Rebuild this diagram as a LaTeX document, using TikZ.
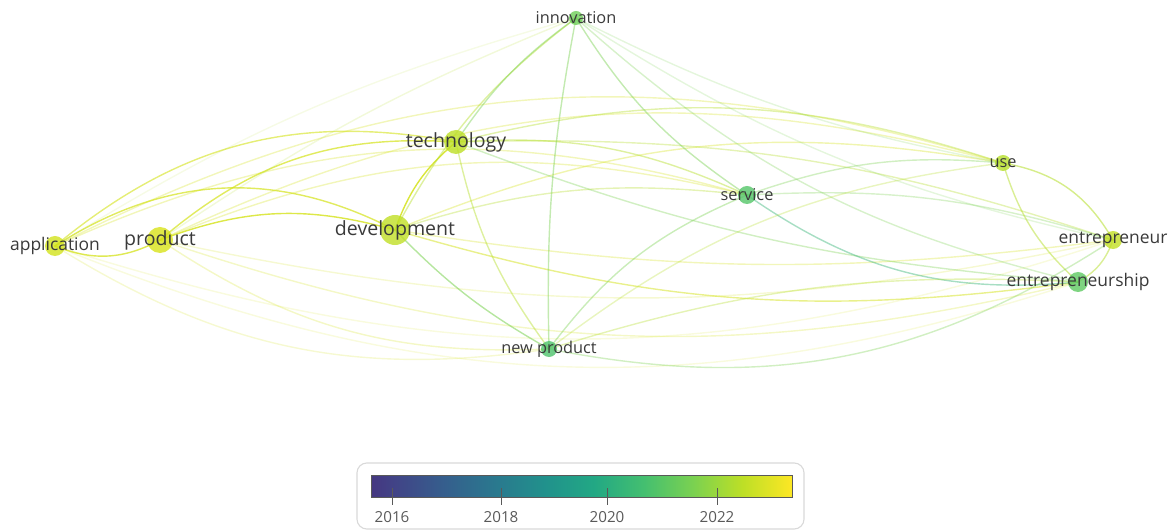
\documentclass[tikz,border=0pt]{standalone}
\usepackage{fontspec}
\setmainfont{Open Sans}
\usetikzlibrary{backgrounds}

\definecolor{txt}{HTML}{3A3A3A}
\definecolor{cApp}{HTML}{D2E21B}
\definecolor{cProd}{HTML}{D8E219}
\definecolor{cDev}{HTML}{C0DF25}
\definecolor{cTech}{HTML}{BDDF26}
\definecolor{cInno}{HTML}{6ECE58}
\definecolor{cServ}{HTML}{54C568}
\definecolor{cUse}{HTML}{B5DE2B}
\definecolor{cEntr}{HTML}{C2DF23}
\definecolor{cEntrs}{HTML}{5EC962}
\definecolor{cNewp}{HTML}{4EC36B}
\definecolor{cY}{HTML}{D4E21A}
\definecolor{cL}{HTML}{B5DE2B}
\definecolor{cG}{HTML}{7AD151}
\definecolor{cB}{HTML}{3BB57A}
\definecolor{vA}{HTML}{453781}
\definecolor{vB}{HTML}{414487}
\definecolor{vC}{HTML}{355F8D}
\definecolor{vD}{HTML}{2A788E}
\definecolor{vE}{HTML}{21918C}
\definecolor{vF}{HTML}{22A884}
\definecolor{vG}{HTML}{44BF70}
\definecolor{vH}{HTML}{7AD151}
\definecolor{vI}{HTML}{BDDF26}
\definecolor{vJ}{HTML}{FDE725}
\pgfdeclarehorizontalshading{viridis}{100bp}{color(0bp)=(vA); color(25bp)=(vA);
  color(27.9bp)=(vB); color(33.8bp)=(vC); color(39.7bp)=(vD); color(45.6bp)=(vE);
  color(51.5bp)=(vF); color(57.4bp)=(vG); color(63.2bp)=(vH); color(69.1bp)=(vI);
  color(75bp)=(vJ); color(100bp)=(vJ)}

\begin{document}
\begin{tikzpicture}[x=0.025cm,y=0.025cm,
    kw/.style={circle,inner sep=0pt,draw=none,fill opacity=.8},
    lbl/.style={text=txt,inner sep=0pt},
    lblbig/.style={lbl,font=\fontsize{13.9}{16}\selectfont},
    lblmid/.style={lbl,font=\fontsize{12.4}{14}\selectfont},
    lblsmall/.style={lbl,font=\fontsize{11.6}{14}\selectfont},
    link/.style={line width=1pt,line cap=round},
    tickmark/.style={draw=gray!70!black,line width=.6pt},
    yrlbl/.style={text=black!65,inner sep=0pt,font=\fontsize{10.8}{12}\selectfont}]
  \useasboundingbox (0,0) rectangle (1173,-531);
  % keywords
  \node[kw,fill=cApp,minimum size=0.5cm] (app) at (55,-246) {};
  \node[kw,fill=cProd,minimum size=0.65cm] (prod) at (160,-240) {};
  \node[kw,fill=cDev,minimum size=0.75cm] (dev) at (395,-230) {};
  \node[kw,fill=cTech,minimum size=0.6cm] (tech) at (456,-142) {};
  \node[kw,fill=cInno,minimum size=0.35cm] (inno) at (576,-18) {};
  \node[kw,fill=cServ,minimum size=0.45cm] (serv) at (747,-195) {};
  \node[kw,fill=cUse,minimum size=0.4cm] (use) at (1003,-163) {};
  \node[kw,fill=cEntr,minimum size=0.45cm] (entr) at (1113,-240) {};
  \node[kw,fill=cEntrs,minimum size=0.5cm] (entrs) at (1078,-282) {};
  \node[kw,fill=cNewp,minimum size=0.4cm] (newp) at (549,-349) {};
  \node[lblmid] (app-t) at (app) {application};
  \node[lblbig] (prod-t) at (prod) {product};
  \node[lblbig] (dev-t) at (dev) {development};
  \node[lblbig] (tech-t) at (tech) {technology};
  \node[lblsmall] (inno-t) at (inno) {innovation};
  \node[lblsmall] (serv-t) at (serv) {service};
  \node[lblsmall] (use-t) at (use) {use};
  \node[lblmid] (entr-t) at (entr) {entrepreneur};
  \node[lblmid] (entrs-t) at (entrs) {entrepreneurship};
  \node[lblsmall] (newp-t) at (newp) {new product};
  % links
  \begin{pgfonlayer}{background}
    \draw[link,cY,opacity=.75] (app.center) to[bend right=25] (prod.center);
    \draw[link,cY,opacity=.7] (app.center) to[bend left=30] (dev.center);
    \draw[link,cY,opacity=.6] (app.center) to[bend left=25] (tech.center);
    \draw[link,cL,opacity=.12] (app.center) to[bend left=8] (inno.center);
    \draw[link,cY,opacity=.3] (app.center) to[bend left=20] (serv.center);
    \draw[link,cY,opacity=.3] (app.center) to[bend left=22] (use.center);
    \draw[link,cY,opacity=.15] (app.center) to[bend right=18] (entr.center);
    \draw[link,cY,opacity=.15] (app.center) to[bend right=20] (entrs.center);
    \draw[link,cY,opacity=.2] (app.center) to[bend right=20] (newp.center);
    \draw[link,cY,opacity=.8] (prod.center) to[bend left=18] (dev.center);
    \draw[link,cY,opacity=.7] (prod.center) to[bend left=22] (tech.center);
    \draw[link,cL,opacity=.18] (prod.center) to[bend left=6] (inno.center);
    \draw[link,cY,opacity=.3] (prod.center) to[bend left=18] (serv.center);
    \draw[link,cY,opacity=.3] (prod.center) to[bend left=20] (use.center);
    \draw[link,cY,opacity=.2] (prod.center) to[bend right=12] (entr.center);
    \draw[link,cY,opacity=.25] (prod.center) to[bend right=16] (entrs.center);
    \draw[link,cY,opacity=.25] (prod.center) to[bend right=18] (newp.center);
    \draw[link,cY,opacity=.85] (dev.center) to[bend left=15] (tech.center);
    \draw[link,cL,opacity=.45] (dev.center) to[bend left=12] (inno.center);
    \draw[link,cL,opacity=.35] (dev.center) to[bend left=12] (serv.center);
    \draw[link,cY,opacity=.35] (dev.center) to[bend left=16] (use.center);
    \draw[link,cY,opacity=.3] (dev.center) to[bend right=8] (entr.center);
    \draw[link,cY,opacity=.5] (dev.center) to[bend right=12] (entrs.center);
    \draw[link,cG,opacity=.55] (dev.center) to[bend right=8] (newp.center);
    \draw[link,cG,opacity=.45] (tech.center) to[bend left=10] (inno.center);
    \draw[link,cL,opacity=.45] (tech.center) to[bend left=14] (serv.center);
    \draw[link,cL,opacity=.4] (tech.center) to[bend left=16] (use.center);
    \draw[link,cL,opacity=.35] (tech.center) to[bend left=10] (entr.center);
    \draw[link,cG,opacity=.35] (tech.center) to[bend right=8] (entrs.center);
    \draw[link,cL,opacity=.45] (tech.center) to[bend right=12] (newp.center);
    \draw[link,cG,opacity=.45] (inno.center) to[bend right=12] (serv.center);
    \draw[link,cG,opacity=.2] (inno.center) to[bend right=8] (use.center);
    \draw[link,cG,opacity=.2] (inno.center) to[bend right=10] (entr.center);
    \draw[link,cG,opacity=.3] (inno.center) to[bend right=14] (entrs.center);
    \draw[link,cG,opacity=.45] (inno.center) to[bend right=6] (newp.center);
    \draw[link,cG,opacity=.35] (serv.center) to[bend left=12] (use.center);
    \draw[link,cG,opacity=.3] (serv.center) to[bend left=10] (entr.center);
    \draw[link,cB,opacity=.45] (serv.center) to[bend right=20] (entrs.center);
    \draw[link,cG,opacity=.4] (serv.center) to[bend right=15] (newp.center);
    \draw[link,cL,opacity=.55] (use.center) to[bend left=25] (entr.center);
    \draw[link,cL,opacity=.5] (use.center) to[bend right=15] (entrs.center);
    \draw[link,cL,opacity=.3] (use.center) to[bend right=15] (newp.center);
    \draw[link,cL,opacity=.5] (entr.center) to[bend left=20] (entrs.center);
    \draw[link,cG,opacity=.35] (entr.center) to[bend left=22] (newp.center);
    \draw[link,cL,opacity=.35] (entrs.center) to[bend right=10] (newp.center);
  \end{pgfonlayer}
  % legend
  \draw[draw=gray!30,line width=.8pt,rounded corners=7pt] (357,-463) rectangle (804,-529);
  \shade[shading=viridis] (371,-475) rectangle (792,-497);
  \draw[draw=gray!70!black,line width=.6pt] (371,-475) rectangle (792,-497);
  \foreach \yr/\x in {2016/392,2018/501,2020/607,2022/717} {
    \draw[tickmark] (\x,-488) -- (\x,-505);
    \node[yrlbl] (y\yr) at (\x,-517) {\yr};
  }
\end{tikzpicture}
\end{document}
